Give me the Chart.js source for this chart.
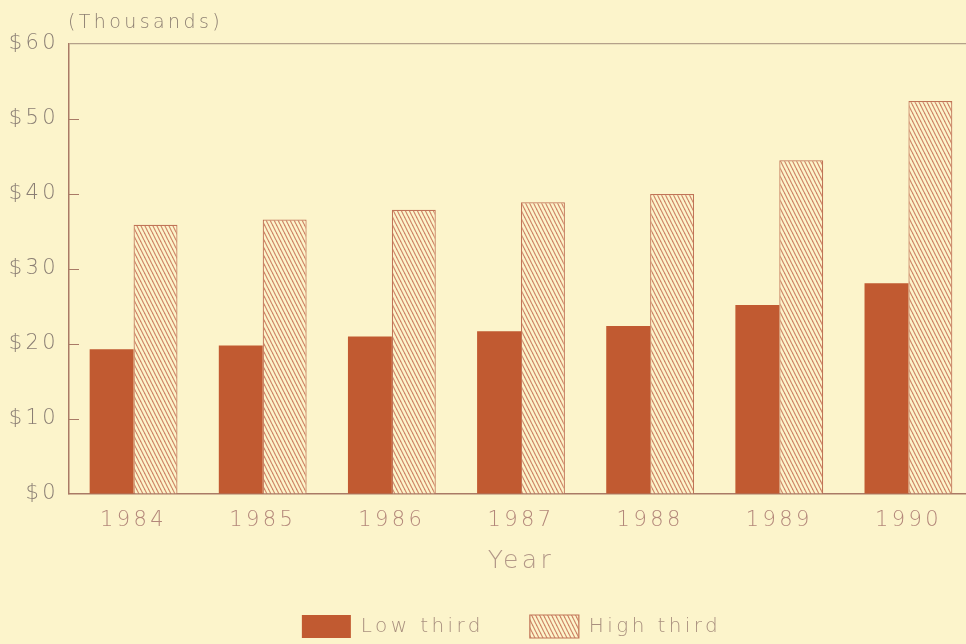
<!DOCTYPE html>
<html>
<head>
<meta charset="utf-8">
<title>Income by year</title>
<script src="https://cdn.jsdelivr.net/npm/chart.js@4.4.1/dist/chart.umd.min.js"></script>
<style>
  html, body { margin: 0; padding: 0; background: #fcf4cb; overflow: hidden; }
  #wrap { width: 975px; height: 644px; }
  canvas { display: block; }
</style>
</head>
<body>
<div id="wrap"><canvas id="chart" width="975" height="644"></canvas></div>
<script>
// Years on the category axis
const years = ['1984', '1985', '1986', '1987', '1988', '1989', '1990'];
// Values in thousands of dollars
const lowThird  = [19.3, 19.8, 21.0, 21.7, 22.4, 25.2, 28.1];
const highThird = [35.9, 36.6, 37.9, 38.9, 40.0, 44.5, 52.4];
// Value axis ticks
const yTicks = [0, 10, 20, 30, 40, 50, 60];
const seriesNames = ['Low third', 'High third'];
const unitNote = '(Thousands)';
const axisTitle = 'Year';

const BG = '#fcf4cb';
const RUST = '#c15a31';
const HATCH = '#cf8466';
const AXIS = '#a97a66';
const FONT = "'DejaVu Sans', 'Liberation Sans', sans-serif";
const WEIGHT = 200;

// Diagonal "\" hatch pattern used for the second series
function makeHatch() {
  const w = 4, h = 8;
  const tile = document.createElement('canvas');
  tile.width = w; tile.height = h;
  const g = tile.getContext('2d');
  g.fillStyle = BG;
  g.fillRect(0, 0, w, h);
  g.strokeStyle = HATCH;
  g.lineWidth = 1.2;
  for (const dx of [-w, 0, w]) {
    g.beginPath();
    g.moveTo(dx, 0);
    g.lineTo(dx + w, h);
    g.stroke();
  }
  return g.createPattern(tile, 'repeat');
}

// Short tick marks pointing into the plot from the value axis
const innerTicks = {
  id: 'innerTicks',
  afterDatasetsDraw(chart) {
    const ys = chart.scales.y;
    const ctx = chart.ctx;
    const left = chart.chartArea.left;
    ctx.save();
    ctx.strokeStyle = AXIS;
    ctx.lineWidth = 1;
    ys.ticks.forEach(t => {
      if (t.value > yTicks[0] && t.value < yTicks[yTicks.length - 1]) {
        const py = Math.round(ys.getPixelForValue(t.value)) + 0.5;
        ctx.beginPath();
        ctx.moveTo(left, py);
        ctx.lineTo(left + 10, py);
        ctx.stroke();
      }
    });
    ctx.restore();
  }
};

// Unit note above the value axis
const unitLabel = {
  id: 'unitLabel',
  afterDraw(chart) {
    const ctx = chart.ctx;
    ctx.save();
    ctx.letterSpacing = '3.4px';
    ctx.font = `${WEIGHT} 19px ${FONT}`;
    ctx.fillStyle = '#8d7f72';
    ctx.textAlign = 'left';
    ctx.textBaseline = 'middle';
    ctx.fillText(unitNote, chart.chartArea.left - 1, 23);
    ctx.restore();
  }
};

// Open tracking: wide for the legend, a bit tighter for axis labels
// (the axes sit on z = 1, so they are drawn after the bars)
const tracking = {
  id: 'tracking',
  beforeUpdate(chart) { chart.ctx.letterSpacing = '3.4px'; },
  beforeDraw(chart) { chart.ctx.letterSpacing = '3.4px'; },
  afterDatasetsDraw(chart) { chart.ctx.letterSpacing = '2.3px'; }
};

// Centre the legend row under the plot area rather than the whole canvas
const legendOffset = {
  id: 'legendOffset',
  afterLayout(chart) {
    if (chart.legend) chart.legend.left = 50;
  }
};

const hatch = makeHatch();

new Chart(document.getElementById('chart'), {
  type: 'bar',
  data: {
    labels: years,
    datasets: [
      {
        label: seriesNames[0],
        data: lowThird,
        backgroundColor: RUST,
        borderColor: RUST,
        borderWidth: 0
      },
      {
        label: seriesNames[1],
        data: highThird,
        backgroundColor: hatch,
        borderColor: '#c07457',
        borderWidth: 1.2
      }
    ]
  },
  options: {
    responsive: false,
    animation: false,
    devicePixelRatio: 1,
    layout: { padding: { top: 44, right: 2, left: 0, bottom: -4 } },
    datasets: { bar: { categoryPercentage: 0.68, barPercentage: 1.0 } },
    plugins: {
      legend: {
        position: 'bottom',
        labels: {
          boxWidth: 49,
          boxHeight: 23,
          padding: 46,
          color: '#a9907f',
          font: { family: FONT, size: 20, weight: WEIGHT }
        }
      },
      tooltip: { enabled: false },
      title: { display: false }
    },
    scales: {
      x: {
        z: 1,
        grid: { display: false, drawTicks: false },
        border: { display: true, color: AXIS, width: 1.5 },
        ticks: {
          color: '#b3877a',
          padding: 14,
          font: { family: FONT, size: 21, weight: WEIGHT }
        },
        title: {
          display: true,
          text: axisTitle,
          color: '#b39888',
          font: { family: FONT, size: 25, weight: WEIGHT },
          padding: { top: 0, bottom: -7 }
        },
        afterFit(scale) { scale.height = 75; }
      },
      y: {
        z: 1,
        min: yTicks[0],
        max: yTicks[yTicks.length - 1],
        afterBuildTicks(scale) { scale.ticks = yTicks.map(v => ({ value: v })); },
        grid: {
          drawTicks: false,
          lineWidth: 1.2,
          color: c => (c.tick && c.tick.value === yTicks[yTicks.length - 1]) ? 'rgba(150,125,110,0.7)' : 'rgba(0,0,0,0)'
        },
        border: { display: true, color: AXIS, width: 1.5 },
        ticks: {
          color: '#8a7e74',
          padding: 10,
          font: { family: FONT, size: 21, weight: WEIGHT },
          callback: v => '$' + v
        },
        afterFit(scale) { scale.width = 69; }
      }
    }
  },
  plugins: [tracking, innerTicks, unitLabel, legendOffset]
});
</script>
</body>
</html>
